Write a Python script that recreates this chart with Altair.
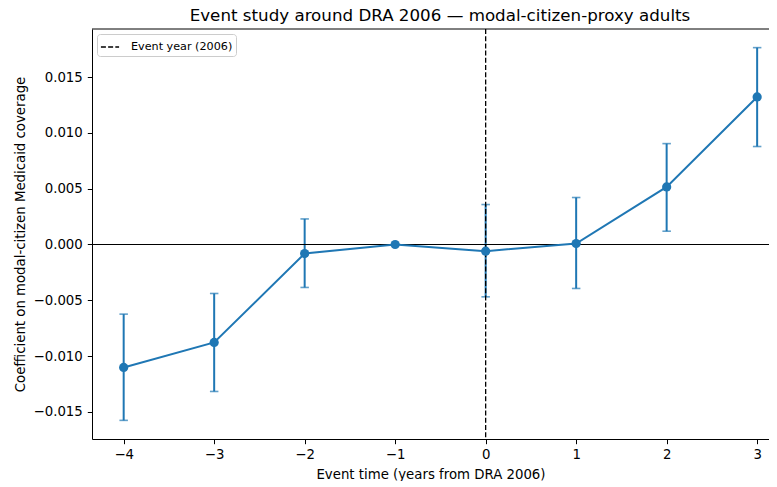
import altair as alt
import pandas as pd

event_time = [-4, -3, -2, -1, 0, 1, 2, 3]
coef = [-0.01102, -0.00878, -0.00081, 0.0, -0.00060, 0.00009, 0.00516, 0.01322]
ci_low = [-0.01576, -0.01317, -0.00385, 0.0, -0.00469, -0.00394, 0.00119, 0.00878]
ci_high = [-0.00624, -0.00439, 0.00229, 0.0, 0.00358, 0.00421, 0.00904, 0.01764]
event_year_label = ["Event year (2006)"]
title_text = ["Event study around DRA 2006 \u2014 modal-citizen-proxy adults"]
x_ticks = [-4, -3, -2, -1, 0, 1, 2, 3]
y_ticks = [-0.015, -0.010, -0.005, 0.0, 0.005, 0.010, 0.015]

df = pd.DataFrame({"t": event_time, "coef": coef, "lo": ci_low, "hi": ci_high})
vdf = pd.DataFrame({"t": [0], "label": event_year_label})
hdf = pd.DataFrame({"y": [0.0]})
tdf = pd.DataFrame({"title": title_text})

FONT = "DejaVu Sans"
BLUE = "#1f77b4"
W = 677
H = 410
X_DOM = [-4.35, 3.131]
Y_DOM = [-0.01743, 0.01931]

xs = alt.Scale(domain=X_DOM, nice=False, zero=False)
ys = alt.Scale(domain=Y_DOM, nice=False, zero=False)

x_axis = alt.Axis(values=x_ticks, title="Event time (years from DRA 2006)",
                  labelExpr="replace(format(datum.value, 'd'), '-', '\u2212')",
                  grid=False, titlePadding=6, labelPadding=4)
y_axis = alt.Axis(values=y_ticks, title="Coefficient on modal-citizen Medicaid coverage",
                  labelExpr="replace(format(datum.value, '.3f'), '-', '\u2212')",
                  grid=False, titlePadding=6, labelPadding=5)

base = alt.Chart(df)

err = base.mark_rule(color=BLUE, strokeWidth=2).encode(
    x=alt.X("t:Q", scale=xs, axis=x_axis),
    y=alt.Y("lo:Q", scale=ys, axis=y_axis),
    y2="hi:Q",
)
cap_lo = base.mark_tick(color=BLUE, orient="horizontal", size=8.5, thickness=1.6).encode(
    x=alt.X("t:Q", scale=xs), y=alt.Y("lo:Q", scale=ys))
cap_hi = base.mark_tick(color=BLUE, orient="horizontal", size=8.5, thickness=1.6).encode(
    x=alt.X("t:Q", scale=xs), y=alt.Y("hi:Q", scale=ys))

hline = alt.Chart(hdf).mark_rule(color="black", strokeWidth=1.05).encode(
    y=alt.Y("y:Q", scale=ys))

vline = alt.Chart(vdf).mark_rule(color="black", strokeWidth=1.3).encode(
    x=alt.X("t:Q", scale=xs),
    strokeDash=alt.StrokeDash(
        "label:N",
        scale=alt.Scale(domain=event_year_label, range=[[5, 2.2]]),
        legend=alt.Legend(title=None, orient="none", legendX=5, legendY=5,
                          symbolType="stroke", symbolStrokeColor="black",
                          symbolStrokeWidth=1.3, symbolSize=330,
                          labelFont=FONT, labelFontSize=11.2, labelColor="black",
                          padding=3, strokeColor="#cccccc", fillColor="white",
                          cornerRadius=3, labelOffset=11),
    ),
)

line = base.mark_line(color=BLUE, strokeWidth=2).encode(
    x=alt.X("t:Q", scale=xs), y=alt.Y("coef:Q", scale=ys))
pts = base.mark_circle(color=BLUE, size=85, opacity=1).encode(
    x=alt.X("t:Q", scale=xs), y=alt.Y("coef:Q", scale=ys))

top = alt.Chart(hdf).mark_rule(color="black", strokeWidth=1).encode(
    x=alt.value(0), x2=alt.value(W), y=alt.value(0))

title = alt.Chart(tdf).mark_text(font=FONT, fontSize=16.7, color="black",
                                 align="center", baseline="alphabetic").encode(
    x=alt.value(348), y=alt.value(-8), text="title:N")

chart = alt.layer(err, cap_lo, cap_hi, hline, vline, line, pts, top, title).properties(
    width=W, height=H,
    padding={"left": 84, "top": 21, "right": 0, "bottom": 42},
    autosize=alt.AutoSizeParams(type="none"),
).configure_view(stroke=None).configure_axis(
    labelFont=FONT, labelFontSize=13.3, labelColor="black",
    titleFont=FONT, titleFontSize=13.3, titleFontWeight="normal", titleColor="black",
    domainColor="black", domainWidth=1, tickColor="black", tickSize=4.7, tickWidth=1,
)

chart.save("out.html", embed_options={"renderer": "svg", "actions": False})
